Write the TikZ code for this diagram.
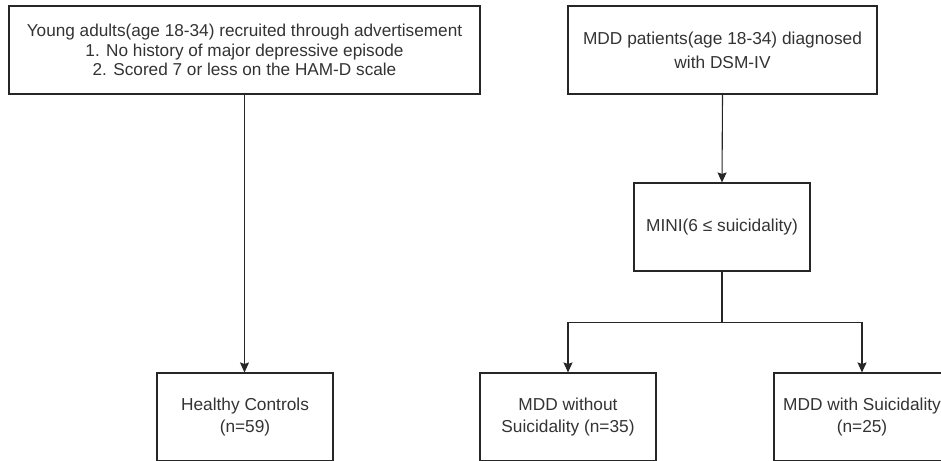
\documentclass[tikz,border=0pt]{standalone}
\usepackage{fontspec}
\setmainfont{Liberation Sans}
\usetikzlibrary{arrows.meta}
\begin{document}
\begin{tikzpicture}[x=1pt,y=-1pt,
  box/.style={draw=black!85, line width=1.1pt, rectangle, inner sep=0pt, text=black!80, align=center, minimum height=88pt},
  topfont/.style={font=\fontsize{17.2}{19.5}\selectfont},
  botfont/.style={font=\fontsize{17.3}{22}\selectfont},
  conn/.style={draw=black!85, line width=1.1pt},
  arr/.style={conn, -{Stealth[length=10pt,width=9pt,inset=1.5pt]}}]
\useasboundingbox (0,0) rectangle (941,460);
\node[box, topfont, minimum width=471pt] (young) at (244.5,50)
  {Young adults(age 18-34) recruited through advertisement\\1. No history of major depressive episode\\2. Scored 7 or less on the HAM-D scale};
\node[box, font=\fontsize{17.3}{24}\selectfont, minimum width=309pt] (mdd) at (722.5,50)
  {MDD patients(age 18-34) diagnosed\\with DSM-IV};
\node[box, font=\fontsize{17.3}{20}\selectfont, minimum width=176pt] (mini) at (722,227)
  {MINI(6 ≤ suicidality)};
\node[box, botfont, minimum width=176pt] (hc) at (245,417) {Healthy Controls\\(n=59)};
\node[box, botfont, minimum width=176pt] (without) at (568,417) {MDD without\\Suicidality (n=35)};
\node[box, botfont, minimum width=176pt] (with) at (862,417) {MDD with Suicidality\\(n=25)};
\draw[arr] (young.south) -- (young.south |- hc.north);
\draw[arr] (mdd.south) -- (mini.north);
\draw[arr] (mini.south) -- ++(0,51) -| (without.north);
\draw[arr] (mini.south) -- ++(0,51) -| (with.north);
\end{tikzpicture}
\end{document}
